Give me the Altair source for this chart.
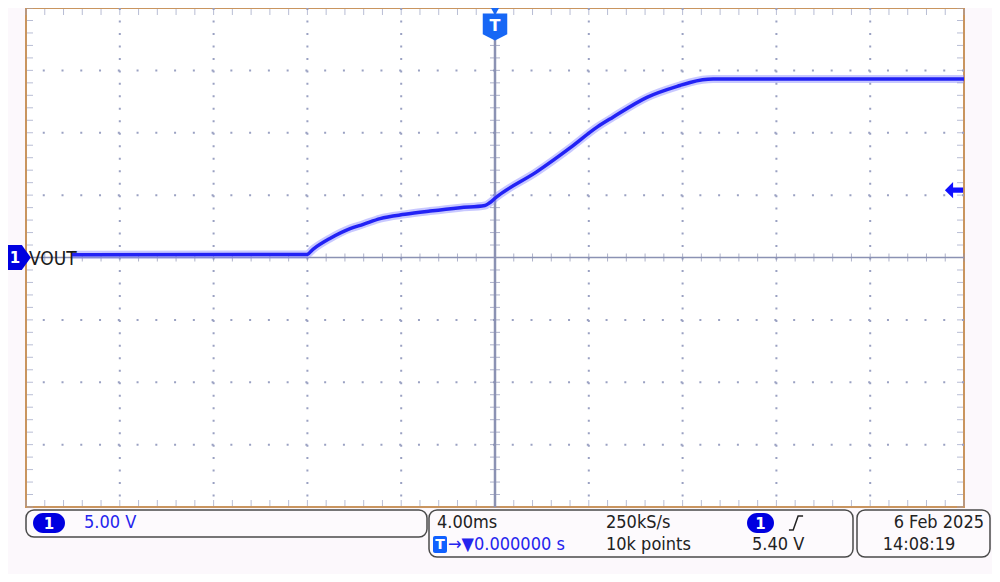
import altair as alt
import pandas as pd

# ---- data (time in ms, voltage in V) ----
t_ms = [-18.04, -8.03, -7.75, -7.04, -6.18, -5.62, -4.90, -3.84, -2.77, -1.49, -0.43,
        -0.21, 0.04, 1.79, 3.20, 4.35, 5.03, 6.48, 7.89, 8.32, 9.30, 20.0]
v_volt = [0.22, 0.24, 0.68, 1.53, 2.32, 2.66, 3.12, 3.46, 3.72, 3.99, 4.17,
          4.41, 4.81, 6.88, 8.78, 10.45, 11.25, 12.84, 13.79, 14.03, 14.30, 14.30]

grid_t = [-16, -12, -8, -4, 4, 8, 12, 16]          # ms, major divisions (4 ms/div)
grid_v = [-15, -10, -5, 5, 10, 15]                  # V, major divisions (5 V/div)
minor_t = [round(-20 + 0.8 * i, 2) for i in range(51)]
minor_v = [round(-20 + 1.0 * i, 2) for i in range(41)]
trigger_level = [5.4]

W, H = 938, 499
XD, YD = [-20, 20], [-20, 20]
FONT = "DejaVu Sans Condensed, Liberation Sans Narrow, DejaVu Sans"
GRID = "#9aa1c2"
AXC = "#8b92b3"
BLUE_T = "#2222f5"
PILL = "#0000e0"


def xs(field="t"):
    return alt.X(f"{field}:Q", scale=alt.Scale(domain=XD, nice=False, zero=False), axis=None)


def ys(field="v"):
    return alt.Y(f"{field}:Q", scale=alt.Scale(domain=YD, nice=False, zero=False), axis=None)


trace_df = pd.DataFrame({"t": t_ms, "v": v_volt})
one = alt.Data(values=[{"k": 0}])

# grid
vgrid = alt.Chart(pd.DataFrame({"t": grid_t})).mark_rule(
    color=GRID, strokeWidth=2, strokeDash=[2, H / 40 - 2]).encode(x=xs())
hgrid = alt.Chart(pd.DataFrame({"v": grid_v})).mark_rule(
    color=GRID, strokeWidth=2, strokeDash=[2, W / 50 - 2]).encode(y=ys())

# centre cross
cx = alt.Chart(pd.DataFrame({"t": [0]})).mark_rule(color=AXC, strokeWidth=2.5).encode(x=xs())
cy = alt.Chart(pd.DataFrame({"v": [0]})).mark_rule(color=AXC, strokeWidth=1.5).encode(y=ys())

mt_c = pd.DataFrame({"t": minor_t, "v": [0] * len(minor_t)})
mv_c = pd.DataFrame({"v": minor_v, "t": [0] * len(minor_v)})
mt_b = pd.DataFrame({"t": minor_t, "v": [-20] * len(minor_t)})
mt_t = pd.DataFrame({"t": minor_t, "v": [20] * len(minor_t)})
mv_l = pd.DataFrame({"v": minor_v, "t": [-20] * len(minor_v)})
mv_r = pd.DataFrame({"v": minor_v, "t": [20] * len(minor_v)})

tick_cx = alt.Chart(mt_c).mark_tick(orient="vertical", color=AXC, size=8, thickness=1).encode(x=xs(), y=ys())
tick_cy = alt.Chart(mv_c).mark_tick(orient="horizontal", color=AXC, size=10, thickness=1).encode(x=xs(), y=ys())
tick_bot = alt.Chart(mt_b).mark_tick(orient="vertical", color=GRID, size=6, thickness=1, yOffset=-4).encode(x=xs(), y=ys())
tick_top = alt.Chart(mt_t).mark_tick(orient="vertical", color=GRID, size=6, thickness=1, yOffset=4).encode(x=xs(), y=ys())
tick_l = alt.Chart(mv_l).mark_tick(orient="horizontal", color=GRID, size=6, thickness=1, xOffset=4).encode(x=xs(), y=ys())
tick_r = alt.Chart(mv_r).mark_tick(orient="horizontal", color=GRID, size=6, thickness=1, xOffset=-4).encode(x=xs(), y=ys())

# trace
halo = alt.Chart(trace_df).mark_line(color="#8585ff", strokeWidth=8, opacity=0.45,
                                     interpolate="monotone").encode(x=xs(), y=ys())
core = alt.Chart(trace_df).mark_line(color=BLUE_T, strokeWidth=3.5,
                                     interpolate="monotone").encode(x=xs(), y=ys())

# channel 1 ground marker + label
gnd = pd.DataFrame({"t": [-20], "v": [0]})
ch_marker = alt.Chart(gnd).mark_point(
    shape="M -1 -0.9 L 0.35 -0.9 L 1 0 L 0.35 0.9 L -1 0.9 Z", size=760, filled=True,
    color=PILL, opacity=1, xOffset=-9).encode(x=xs(), y=ys())
ch_num = alt.Chart(gnd).mark_text(text="1", color="white", fontSize=15, fontWeight="bold",
                                  font="DejaVu Sans", xOffset=-11, baseline="middle").encode(x=xs(), y=ys())
vout = alt.Chart(gnd).mark_text(text="VOUT", color="#1a1a1a", fontSize=19, font=FONT,
                                align="left", baseline="middle", xOffset=3, yOffset=1).encode(x=xs(), y=ys())

# trigger level arrow (right edge)
trig_arrow = alt.Chart(pd.DataFrame({"t": [20], "v": trigger_level})).mark_point(
    shape="M -1 0 L -0.1 -0.9 L -0.1 -0.3 L 1 -0.3 L 1 0.3 L -0.1 0.3 L -0.1 0.9 Z",
    size=330, filled=True, color="#1010ff", opacity=1, xOffset=-10).encode(x=xs(), y=ys())

# trigger position marker (top)
TBLUE = "#1767f5"
tpos = pd.DataFrame({"t": [0]})
trig_tri = alt.Chart(tpos).mark_point(shape="triangle-down", size=90, filled=True,
                                      color=TBLUE, opacity=1).encode(x=xs(), y=alt.value(3))
trig_shield = alt.Chart(tpos).mark_point(
    shape="M -1 -1.1 L 1 -1.1 L 1 0.6 L 0 1.1 L -1 0.6 Z", size=600, filled=True,
    color=TBLUE, opacity=1).encode(x=xs(), y=alt.value(19))
trig_T = alt.Chart(tpos).mark_text(text="T", color="white", fontSize=16, fontWeight="bold",
                                   font="DejaVu Sans", baseline="middle").encode(x=xs(), y=alt.value(18))


# ---- status bar (pixel positions relative to the plot area) ----
def box(x1, x2, y1, y2):
    return alt.Chart(one).mark_rect(fill="#fdfafd", stroke="#4a4a4a", strokeWidth=1.5,
                                    cornerRadius=8).encode(
        x=alt.value(x1), x2=alt.value(x2), y=alt.value(y1), y2=alt.value(y2))


def pill(x1, x2, y1, y2, color, r):
    return alt.Chart(one).mark_rect(fill=color, cornerRadius=r).encode(
        x=alt.value(x1), x2=alt.value(x2), y=alt.value(y1), y2=alt.value(y2))


def label(txt, x, y, color="#222222", size=18, align="left", weight="normal", font=FONT):
    return alt.Chart(one).mark_text(text=txt, color=color, fontSize=size, font=font,
                                    fontWeight=weight, align=align, baseline="middle").encode(
        x=alt.value(x), y=alt.value(y))


R1, R2 = 515, 537
status = [
    box(0, 401, 502, 529),
    box(403, 827, 502, 549),
    box(831, 964, 502, 549),
    pill(7, 39, 505, 525, PILL, 10),
    label("1", 23, 515.5, "white", 15, "center", "bold", "DejaVu Sans"),
    label("5.00 V", 58, R1, "#2424ee"),
    label("4.00ms", 411, R1),
    label("250kS/s", 580, R1),
    pill(721, 748, 505, 525, PILL, 10),
    label("1", 734.5, 515.5, "white", 15, "center", "bold", "DejaVu Sans"),
    alt.Chart(one).mark_point(shape="M -1 1 L -0.4 1 L 0.3 -1 L 1 -1", size=200, filled=False,
                              color="#222222", strokeWidth=1.5, opacity=1).encode(
        x=alt.value(770), y=alt.value(R1)),
    pill(407, 421, 528, 545, "#1060ff", 2),
    label("T", 414, 536.5, "white", 14, "center", "bold", "DejaVu Sans"),
    label("\u2192\u25bc0.000000 s", 422, R2, "#2424ee"),
    label("10k points", 580, R2),
    label("5.40 V", 726, R2),
    label("6 Feb  2025", 958, R1, align="right"),
    label("14:08:19", 893, R2, align="center"),
]

chart = alt.layer(
    vgrid, hgrid, tick_bot, tick_top, tick_l, tick_r, cx, cy, tick_cx, tick_cy,
    halo, core, vout, ch_marker, ch_num, trig_arrow, trig_tri, trig_shield, trig_T,
    *status,
).properties(
    width=W, height=H,
    padding={"left": 18, "top": 0, "right": 28, "bottom": 67},
    autosize=alt.AutoSizeParams(type="none"),
    background="#fcf8fc",
).configure_view(fill="white", stroke="#c9955f", strokeWidth=2)

chart.save("out.html", embed_options={"renderer": "svg", "actions": False})
